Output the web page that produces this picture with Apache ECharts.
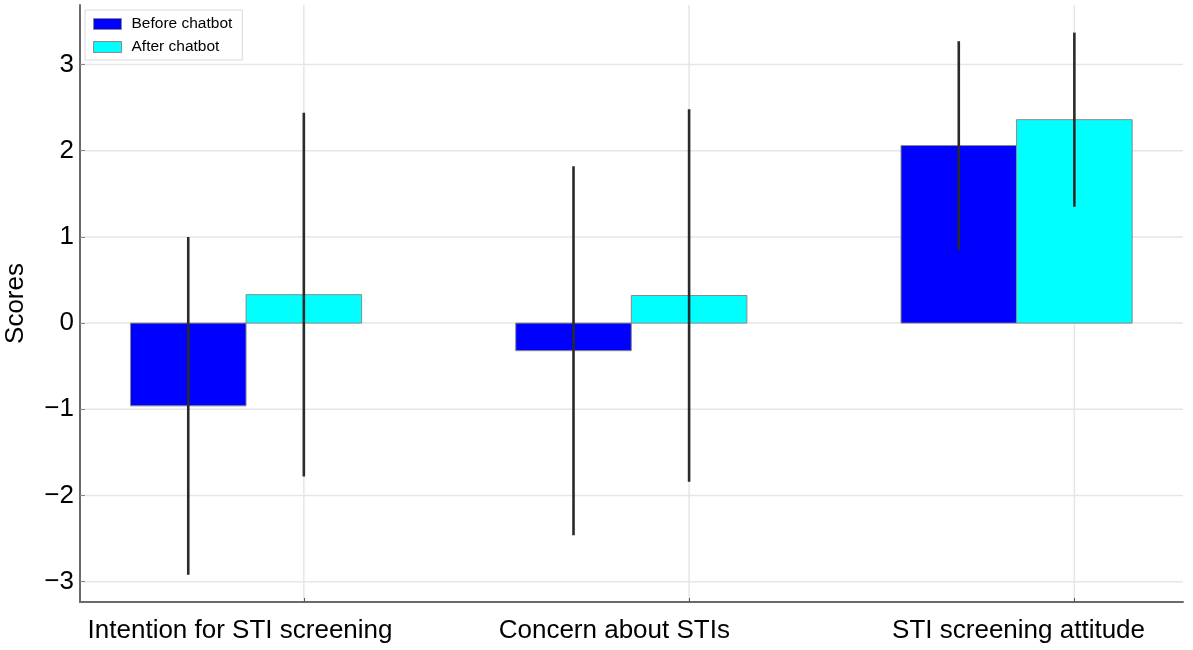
<!DOCTYPE html>
<html>
<head>
<meta charset="utf-8">
<script src="https://cdn.jsdelivr.net/npm/echarts@6/dist/echarts.min.js"></script>
<style>
html,body{margin:0;padding:0;background:#fff;}
#chart{width:1193px;height:650px;}
</style>
</head>
<body>
<div id="chart"></div>
<script>
// ---- data ----
const categories = ['Intention for STI screening', 'Concern about STIs', 'STI screening attitude'];
const seriesNames = ['Before chatbot', 'After chatbot'];
const beforeMean = [-0.96, -0.32, 2.06];
const beforeSD   = [1.96, 2.14, 1.21];
const afterMean  = [0.33, 0.32, 2.36];
const afterSD    = [2.11, 2.16, 1.01];
const yTicks = [-3, -2, -1, 0, 1, 2, 3];
const catPos = [1, 2, 3];

// ---- style constants ----
const BAR_W = 0.3;          // width of one bar in x-axis units
const FONT = 'Liberation Sans, Arial, Helvetica, sans-serif';
const xGridTicks = catPos.map(p => p + BAR_W / 2);
const labelRich = ['a', 'b', 'c'];

const chart = echarts.init(document.getElementById('chart'), null, {renderer: 'canvas'});

function barRender(side, color) {
  return function (params, api) {
    const x = api.value(0), v = api.value(1);
    const x0 = side < 0 ? x - BAR_W : x;
    const x1 = side < 0 ? x : x + BAR_W;
    const p0 = api.coord([x0, 0]);
    const p1 = api.coord([x1, v]);
    return {
      type: 'rect',
      shape: {x: Math.min(p0[0], p1[0]), y: Math.min(p0[1], p1[1]),
              width: Math.abs(p1[0] - p0[0]), height: Math.abs(p1[1] - p0[1])},
      style: {fill: color, stroke: '#8a8a8a', lineWidth: 1}
    };
  };
}
function errRender(params, api) {
  const p0 = api.coord([api.value(0), api.value(1)]);
  const p1 = api.coord([api.value(0), api.value(2)]);
  return {type: 'line', shape: {x1: p0[0], y1: p0[1], x2: p1[0], y2: p1[1]},
          style: {stroke: '#2a2a2a', lineWidth: 2.6}};
}
function hGridRender(params, api) {
  const cs = params.coordSys;
  const y = api.coord([1, api.value(0)])[1];
  return {type: 'line', shape: {x1: cs.x, y1: y, x2: cs.x + cs.width, y2: y},
          style: {stroke: '#e6e6e6', lineWidth: 1.5}};
}
function vGridRender(params, api) {
  const cs = params.coordSys;
  const x = api.coord([api.value(0), 0])[0];
  return {type: 'line', shape: {x1: x, y1: cs.y, x2: x, y2: cs.y + cs.height},
          style: {stroke: '#e6e6e6', lineWidth: 1.5}};
}

const option = {
  animation: false,
  backgroundColor: '#fff',
  textStyle: {fontFamily: FONT},
  grid: {left: 80, top: 5, right: 10, bottom: 48, containLabel: false, outerBoundsMode: 'none'},
  legend: {
    left: 85, top: 10, orient: 'vertical',
    padding: [6, 10, 5, 8], itemGap: 7,
    itemWidth: 28, itemHeight: 11,
    borderColor: '#d8d8d8', borderWidth: 1, backgroundColor: '#fff',
    icon: 'rect',
    textStyle: {fontSize: 15.5, color: '#000', fontFamily: FONT, padding: [0, 0, 0, 5]},
    data: [
      {name: seriesNames[0], itemStyle: {color: '#0000ff', borderColor: '#8a8a8a', borderWidth: 1}},
      {name: seriesNames[1], itemStyle: {color: '#00ffff', borderColor: '#8a8a8a', borderWidth: 1}}
    ]
  },
  xAxis: {
    type: 'value', min: 0.569, max: 3.432,
    axisLine: {show: true, onZero: false, lineStyle: {color: '#6a6a6a', width: 2}},
    axisTick: {show: true, inside: true, length: 4, customValues: xGridTicks, lineStyle: {color: '#555'}},
    axisLabel: {
      customValues: catPos, margin: 16, fontSize: 26, color: '#000', fontFamily: FONT,
      formatter: v => {
        const i = Math.round(v) - 1;
        return categories[i] ? '{' + labelRich[i] + '|' + categories[i] + '}' : '';
      },
      rich: {
        a: {fontSize: 26, fontFamily: FONT, color: '#000', padding: [0, 12, 0, 0]},
        b: {fontSize: 26, fontFamily: FONT, color: '#000', padding: [0, 34, 0, 0]},
        c: {fontSize: 26, fontFamily: FONT, color: '#000', padding: [0, 0, 0, 4]}
      }
    },
    splitLine: {show: false}
  },
  yAxis: {
    type: 'value', min: -3.235, max: 3.69,
    name: 'Scores', nameLocation: 'middle', nameGap: 51, nameRotate: 90,
    nameTextStyle: {fontSize: 26, color: '#000', fontFamily: FONT},
    axisLine: {show: true, onZero: false, lineStyle: {color: '#6a6a6a', width: 2}},
    axisTick: {show: true, inside: true, length: 5, customValues: yTicks, lineStyle: {color: '#888'}},
    axisLabel: {customValues: yTicks, margin: 6, fontSize: 26, color: '#000', fontFamily: FONT,
      formatter: v => (v < 0 ? '\u2212' + Math.abs(v) : String(v))},
    splitLine: {show: false}
  },
  series: [
    {type: 'custom', name: 'hgrid', silent: true, z: 0, renderItem: hGridRender,
     data: yTicks.map(v => [v]), encode: {y: 0}},
    {type: 'custom', name: 'vgrid', silent: true, z: 0, renderItem: vGridRender,
     data: xGridTicks.map(v => [v]), encode: {x: 0}},
    {type: 'custom', name: seriesNames[0], z: 2, renderItem: barRender(-1, '#0000ff'),
     itemStyle: {color: '#0000ff'},
     data: catPos.map((p, i) => [p, beforeMean[i]]), encode: {x: 0, y: 1}},
    {type: 'custom', name: seriesNames[1], z: 2, renderItem: barRender(1, '#00ffff'),
     itemStyle: {color: '#00ffff'},
     data: catPos.map((p, i) => [p, afterMean[i]]), encode: {x: 0, y: 1}},
    {type: 'custom', name: 'err-before', z: 3, renderItem: errRender,
     data: catPos.map((p, i) => [p - BAR_W / 2, beforeMean[i] - beforeSD[i], beforeMean[i] + beforeSD[i]]),
     encode: {x: 0, y: [1, 2]}},
    {type: 'custom', name: 'err-after', z: 3, renderItem: errRender,
     data: catPos.map((p, i) => [p + BAR_W / 2, afterMean[i] - afterSD[i], afterMean[i] + afterSD[i]]),
     encode: {x: 0, y: [1, 2]}}
  ]
};
chart.setOption(option);
</script>
</body>
</html>
